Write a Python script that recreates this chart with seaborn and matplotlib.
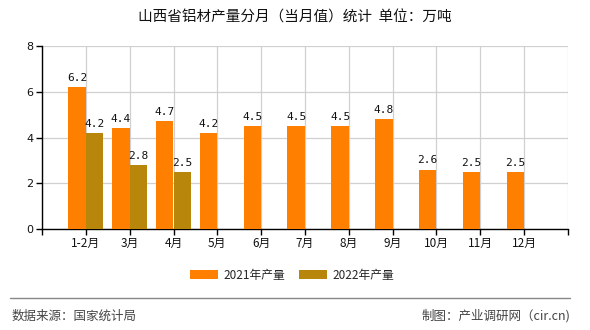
import matplotlib
matplotlib.use("Agg")
import matplotlib.pyplot as plt
import seaborn as sns
import pandas as pd
import numpy as np
from matplotlib.lines import Line2D
from matplotlib.patches import Patch

months = ["1-2月", "3月", "4月", "5月", "6月", "7月", "8月", "9月", "10月", "11月", "12月"]
v2021 = [6.2, 4.4, 4.7, 4.2, 4.5, 4.5, 4.5, 4.8, 2.6, 2.5, 2.5]
v2022 = [4.2, 2.8, 2.5, None, None, None, None, None, None, None, None]
series = ["2021年产量", "2022年产量"]
colors = ["#FF8000", "#B8860B"]
yticks = [0, 2, 4, 6, 8]

sns.set_theme(style="white")
plt.rcParams['font.family'] = ['Noto Sans CJK SC', 'DejaVu Sans']

rows = []
for m, a, b in zip(months, v2021, v2022):
    rows.append({"月份": m, "系列": series[0], "值": a})
    rows.append({"月份": m, "系列": series[1], "值": np.nan if b is None else b})
df = pd.DataFrame(rows)

fig = plt.figure(figsize=(5.9, 3.3), dpi=100)
ax = fig.add_axes([42/590, 1-229/330, (568-42)/590, (229-46)/330])

sns.barplot(data=df, x="月份", y="值", hue="系列", order=months, hue_order=series,
            palette=colors, width=0.8, saturation=1, ax=ax, legend=False, zorder=3,
            edgecolor="none", linewidth=0)

for cont in ax.containers:
    labels = ["" if (np.isnan(h) or h == 0) else f"{h:.1f}" for h in cont.datavalues]
    ax.bar_label(cont, labels=labels, padding=3, fontsize=8,
                 family=['DejaVu Sans Mono'], color="#111111")

ax.set_xlim(-1, 11)
ax.set_ylim(0, 8)
ax.set_yticks(yticks)
ax.set_yticklabels([str(t) for t in yticks], fontsize=8, family=['DejaVu Sans'])
ax.set_xticks(range(-1, 12))
ax.set_xticklabels([""] + months + [""], fontsize=8.5)
ax.set_xlabel("")
ax.set_ylabel("")
ax.grid(True, axis="both", color="#d0d0d0", linewidth=0.9, zorder=0)
ax.set_axisbelow(True)
for s in ["top", "right"]:
    ax.spines[s].set_visible(False)
for s in ["left", "bottom"]:
    ax.spines[s].set_color("#000000")
    ax.spines[s].set_linewidth(1.0)
ax.tick_params(axis="both", which="both", direction="out", length=4, width=1,
               color="#000000", bottom=True, left=True, pad=2, labelcolor="#111111")

fig.text(0.5, 1-18/330, "山西省铝材产量分月（当月值）统计  单位：万吨", ha="center", va="center",
         fontsize=10.5, color="#111111")

handles = [Patch(facecolor=c, edgecolor="none") for c in colors]
fig.legend(handles, series, loc="center", bbox_to_anchor=(292/590, 1-275/330), ncol=2,
           frameon=False, fontsize=8.5, handlelength=2.4, handleheight=0.9,
           columnspacing=1.2, handletextpad=0.4)

fig.add_artist(Line2D([10/590, 570/590], [1-298/330, 1-298/330], color="#888888",
                      linewidth=1, transform=fig.transFigure))
fig.text(12/590, 1-316/330, "数据来源：国家统计局", ha="left", va="center", fontsize=9, color="#444444")
fig.text(570/590, 1-316/330, "制图：产业调研网（cir.cn)", ha="right", va="center", fontsize=9, color="#444444")

fig.savefig("out.png", dpi=100)
